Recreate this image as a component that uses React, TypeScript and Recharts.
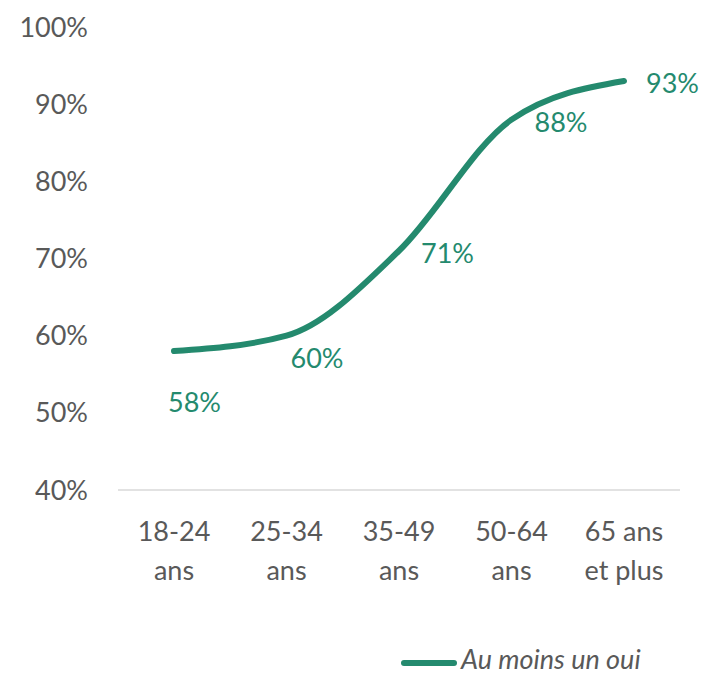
import React from "react"
import { CartesianGrid, LabelList, Line, LineChart, XAxis, YAxis } from "recharts"

const ageGroups = ["18-24 ans", "25-34 ans", "35-49 ans", "50-64 ans", "65 ans et plus"]
const auMoinsUnOui = [58, 60, 71, 88, 93]
const yTicks = [40, 50, 60, 70, 80, 90, 100]
const seriesName = "Au moins un oui"

const data = ageGroups.map((age, i) => ({ age, value: auMoinsUnOui[i] }))

const GREEN = "#248A6E"
const GRAY = "#595959"
const FONT = "Lato, 'Open Sans', sans-serif"

// label placement per point (dx from point to label start, dy to baseline)
const labelShift = [
  { dx: -6, dy: 61 },
  { dx: 4, dy: 32 },
  { dx: 22, dy: 12 },
  { dx: 23, dy: 12 },
  { dx: 22, dy: 12 },
]

const AgeTick = ({ x, y, payload }: any) => {
  const words = String(payload.value).split(" ")
  const lines = words.length > 2 ? [words.slice(0, 2).join(" "), words.slice(2).join(" ")] : words
  return (
    <text x={x} y={y} textAnchor="middle" fill={GRAY} fontSize={27} fontFamily={FONT}>
      {lines.map((l, i) => (
        <tspan key={i} x={x} dy={i === 0 ? 43 : 39}>
          {l}
        </tspan>
      ))}
    </text>
  )
}

const PointLabel = ({ x, y, value, index }: any) => {
  const s = labelShift[index] || { dx: 0, dy: 0 }
  return (
    <text x={x + s.dx} y={y + s.dy} fill={GREEN} fontSize={27} fontFamily={FONT}>
      {value}%
    </text>
  )
}

export default function App() {
  return (
    <div style={{ position: "absolute", left: 0, top: 0, width: 707, height: 675, background: "#fff", overflow: "hidden" }}>
      <LineChart width={707} height={675} data={data} margin={{ top: 27, right: 27, bottom: 65, left: 0 }}>
        <CartesianGrid horizontal={false} vertical={false} />
        <XAxis
          dataKey="age"
          height={120}
          padding={{ left: 56, right: 56 }}
          axisLine={{ stroke: "#D9D9D9", strokeWidth: 1.5 }}
          tickLine={false}
          tick={<AgeTick />}
          interval={0}
        />
        <YAxis
          type="number"
          domain={[40, 100]}
          ticks={yTicks}
          width={118}
          axisLine={false}
          tickLine={false}
          tickSize={0}
          tickMargin={30}
          tickFormatter={(v: number) => `${v}%`}
          tick={{ fill: GRAY, fontSize: 27, fontFamily: FONT }}
        />
        <Line
          type="monotone"
          dataKey="value"
          name={seriesName}
          stroke={GREEN}
          strokeWidth={6}
          strokeLinecap="round"
          dot={false}
          activeDot={false}
          isAnimationActive={false}
        >
          <LabelList dataKey="value" content={<PointLabel />} />
        </Line>
      </LineChart>
      <svg width={310} height={40} style={{ position: "absolute", left: 397, top: 635 }}>
        <line x1={7} y1={28} x2={57} y2={28} stroke={GREEN} strokeWidth={6} strokeLinecap="round" />
        <text x={64} y={34} fill={GRAY} fontSize={27} fontStyle="italic" fontFamily={FONT}>
          {seriesName}
        </text>
      </svg>
    </div>
  )
}
